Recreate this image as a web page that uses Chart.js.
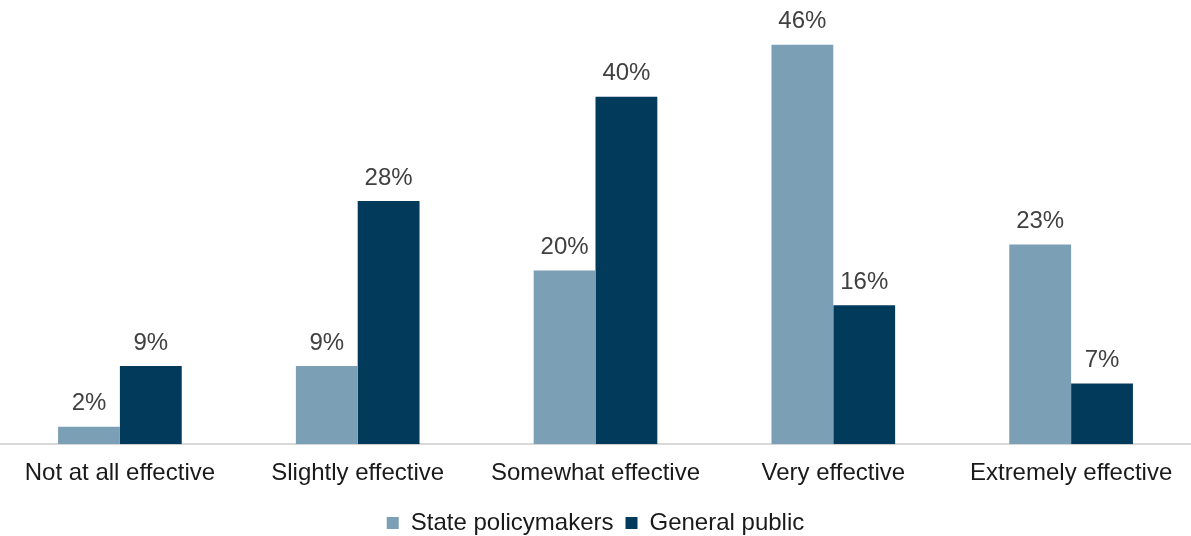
<!DOCTYPE html>
<html>
<head>
<meta charset="utf-8">
<script src="https://cdn.jsdelivr.net/npm/chart.js@4/dist/chart.umd.min.js"></script>
<style>
    html, body { margin: 0; padding: 0; background: #ffffff; }
    #wrap { width: 1191px; height: 536px; position: relative; }
</style>
</head>
<body>
<div id="wrap"><canvas id="effectChart"></canvas></div>
<script>
// 데이터
const categories = ['Not at all effective', 'Slightly effective', 'Somewhat effective', 'Very effective', 'Extremely effective'];
const policymakers = [2, 9, 20, 46, 23];
const generalPublic = [9, 28, 40, 16, 7];

const FONT = '"Liberation Sans", Arial, sans-serif';

// 막대 위에 값 표시
const valueLabels = {
    id: 'valueLabels',
    afterDatasetsDraw(chart) {
        const ctx = chart.ctx;
        ctx.save();
        ctx.font = '24px ' + FONT;
        ctx.fillStyle = '#404040';
        ctx.textAlign = 'center';
        ctx.textBaseline = 'bottom';
        chart.data.datasets.forEach((ds, i) => {
            chart.getDatasetMeta(i).data.forEach((bar, j) => {
                ctx.fillText(ds.data[j] + '%', bar.x, bar.y - 11);
            });
        });
        ctx.restore();
    }
};

// 범례 높이 줄이기 (아래쪽 여백)
const legendShrink = {
    id: 'legendShrink',
    beforeInit(chart) {
        const origFit = chart.legend.fit;
        chart.legend.fit = function() {
            origFit.bind(chart.legend)();
            this.height -= 9;
        };
    }
};

document.addEventListener('DOMContentLoaded', function() {
    const ctx = document.getElementById('effectChart').getContext('2d');
    new Chart(ctx, {
        type: 'bar',
        data: {
            labels: categories,
            datasets: [{
                label: 'State policymakers',
                data: policymakers,
                backgroundColor: '#7b9fb4'
            }, {
                label: 'General public',
                data: generalPublic,
                backgroundColor: '#023a5c'
            }]
        },
        options: {
            responsive: true,
            maintainAspectRatio: false,
            animation: false,
            categoryPercentage: 0.52,
            barPercentage: 1.0,
            layout: {
                padding: { top: 10, left: 1, right: 1, bottom: 0 }
            },
            plugins: {
                legend: {
                    position: 'bottom',
                    labels: {
                        boxWidth: 12,
                        boxHeight: 12,
                        padding: 12,
                        color: '#1a1a1a',
                        font: { size: 24, family: FONT }
                    }
                },
                tooltip: { enabled: false }
            },
            scales: {
                y: {
                    display: false,
                    min: 0,
                    max: 50
                },
                x: {
                    grid: { display: false },
                    border: { color: '#d9d9d9', width: 2 },
                    ticks: {
                        color: '#1a1a1a',
                        padding: 7,
                        font: { size: 24, family: FONT }
                    },
                    afterFit: function(scale) {
                        scale.height += 4;
                    }
                }
            }
        },
        plugins: [valueLabels, legendShrink]
    });
});
</script>
</body>
</html>
